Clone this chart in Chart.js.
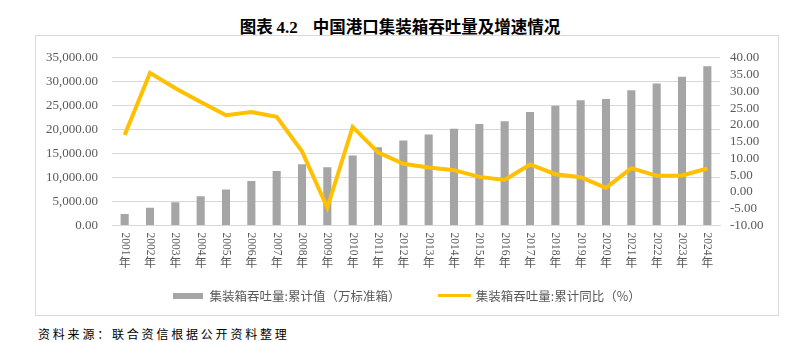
<!DOCTYPE html>
<html><head><meta charset="utf-8">
<script src="https://cdn.jsdelivr.net/npm/chart.js@4"></script>
<style>
body{margin:0;width:785px;height:342px;background:#fff;position:relative;overflow:hidden;}
#title{position:absolute;left:0;width:800px;top:15px;text-align:center;font-weight:bold;font-size:16.5px;font-family:"Noto Sans CJK SC";color:#000;line-height:22px;white-space:pre;}
#title .n{font-family:"Liberation Serif";font-size:17px;}
#frame{position:absolute;left:35px;top:35px;width:742px;height:279px;border:1px solid #d9d9d9;}
#frame canvas{display:block;}
#source{position:absolute;left:38px;top:326px;font-size:12px;font-family:"Noto Sans CJK SC";color:#000;letter-spacing:2.8px;line-height:16px;white-space:nowrap;}
</style></head>
<body>
<div id="title">图表 <span class="n">4.2</span>    中国港口集装箱吞吐量及增速情况</div>
<div id="frame"><canvas id="c" width="742" height="279"></canvas></div>
<div id="source">资料来源：联合资信根据公开资料整理</div>
<script>
const categories = ['2001年','2002年','2003年','2004年','2005年','2006年','2007年','2008年','2009年','2010年','2011年','2012年','2013年','2014年','2015年','2016年','2017年','2018年','2019年','2020年','2021年','2022年','2023年','2024年'];
const throughput = [2400, 3690, 4850, 6080, 7510, 9290, 11400, 12770, 12160, 14610, 16310, 17750, 18980, 20200, 21170, 21780, 23680, 24970, 26140, 26410, 28250, 29620, 31050, 33240];
const growth = [17.0, 35.5, 30.9, 26.8, 22.9, 23.8, 22.4, 12.1, -4.7, 19.4, 11.8, 8.4, 7.3, 6.5, 4.5, 3.6, 8.2, 5.3, 4.4, 1.2, 7.1, 4.8, 4.9, 7.0];
const barLabel = '集装箱吞吐量:累计值（万标准箱）';
const lineLabel = '集装箱吞吐量:累计同比（%）';

const BAR_COLOR = '#a5a5a5';
const LINE_COLOR = '#ffc000';
const TEXT_COLOR = '#595959';

function swatch(w, h, color){
  const c = document.createElement('canvas');
  c.width = w; c.height = h;
  const g = c.getContext('2d');
  g.fillStyle = color; g.fillRect(0,0,w,h);
  return c;
}
const swatches = [swatch(30, 6, BAR_COLOR), swatch(33, 3, LINE_COLOR)];

const xLabelPlugin = {
  id: 'xLabels',
  afterDraw(chart){
    const ctx = chart.ctx;
    const xs = chart.scales.x;
    const bottom = chart.chartArea.bottom;
    ctx.save();
    ctx.fillStyle = TEXT_COLOR;
    categories.forEach((lab, i) => {
      const x = xs.getPixelForValue(i);
      const num = lab.slice(0, -1);
      const suf = lab.slice(-1);
      ctx.save();
      ctx.translate(x, bottom + 7);
      ctx.rotate(Math.PI / 2);
      ctx.font = '11.5px "Liberation Serif"';
      ctx.textAlign = 'left';
      ctx.textBaseline = 'middle';
      ctx.fillText(num, 0, 0);
      ctx.restore();
      ctx.font = '12px "Noto Sans CJK SC"';
      ctx.textAlign = 'center';
      ctx.textBaseline = 'middle';
      ctx.fillText(suf, x, bottom + 37);
    });
    ctx.restore();
  }
};

new Chart(document.getElementById('c'), {
  type: 'bar',
  data: {
    labels: categories,
    datasets: [
      {
        type: 'bar',
        label: barLabel,
        data: throughput,
        backgroundColor: BAR_COLOR,
        barPercentage: 0.32,
        categoryPercentage: 1,
        yAxisID: 'y',
        order: 2
      },
      {
        type: 'line',
        label: lineLabel,
        data: growth,
        borderColor: LINE_COLOR,
        backgroundColor: LINE_COLOR,
        borderWidth: 4,
        pointRadius: 0,
        tension: 0,
        yAxisID: 'y1',
        order: 1
      }
    ]
  },
  plugins: [xLabelPlugin],
  options: {
    responsive: false,
    animation: false,
    layout: { padding: { top: 16, left: 0, right: 0, bottom: 3 } },
    plugins: {
      tooltip: { enabled: false },
      title: { display: false },
      legend: {
        position: 'bottom',
        labels: {
          usePointStyle: true,
          pointStyleWidth: 30,
          padding: 39,
          color: TEXT_COLOR,
          font: { family: '"Noto Sans CJK SC"', size: 12.5 },
          sort: (a, b) => a.datasetIndex - b.datasetIndex,
          generateLabels(chart){
            const items = Chart.defaults.plugins.legend.labels.generateLabels(chart);
            items.forEach(it => { it.pointStyle = swatches[it.datasetIndex]; });
            return items;
          }
        }
      }
    },
    scales: {
      x: {
        offset: true,
        grid: { display: false },
        border: { color: '#d9d9d9' },
        ticks: { display: false },
        afterFit(scale){ scale.height = 25; }
      },
      y: {
        position: 'left',
        min: 0, max: 35000,
        ticks: {
          stepSize: 5000,
          padding: 14,
          autoSkip: false,
          color: TEXT_COLOR,
          font: { family: '"Liberation Serif"', size: 13 },
          callback: v => Number(v).toLocaleString('en-US', {minimumFractionDigits: 2, maximumFractionDigits: 2})
        },
        grid: { color: '#d9d9d9', drawTicks: false },
        border: { display: false },
        afterFit(scale){ scale.width = 76; }
      },
      y1: {
        position: 'right',
        min: -10, max: 40,
        ticks: {
          stepSize: 5,
          padding: 10,
          autoSkip: false,
          color: TEXT_COLOR,
          font: { family: '"Liberation Serif"', size: 13 },
          callback: v => Number(v).toFixed(2)
        },
        grid: { display: false, drawTicks: false },
        border: { display: false },
        afterFit(scale){ scale.width = 58; }
      }
    }
  }
});
</script>
</body></html>
